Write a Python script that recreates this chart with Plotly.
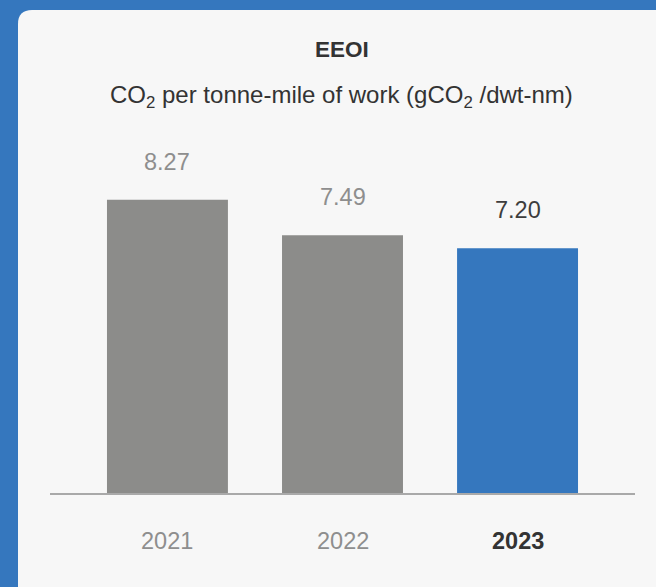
import plotly.graph_objects as go

# EEOI by year
years = ["2021", "2022", "2023"]
eeoi = [8.27, 7.49, 7.20]
value_labels = ["8.27", "7.49", "7.20"]

W, H = 656, 587
BLUE = "#3577be"
GREY_BAR = "#8c8c8a"
CARD = "#f7f7f7"
FONT = "Liberation Sans, Arial, Helvetica, sans-serif"

bar_colors = [GREY_BAR, GREY_BAR, BLUE]
label_colors = ["#8e8e8e", "#8e8e8e", "#3d3d3d"]

# pixel helpers -> paper coordinates (margins are zero)
px = lambda v: v / W
py = lambda v: 1 - v / H

x_pos = list(range(len(years)))

fig = go.Figure(
    go.Bar(
        x=x_pos,
        y=eeoi,
        width=0.691,
        marker=dict(color=bar_colors, line=dict(width=0)),
        hoverinfo="skip",
    )
)

# light card with rounded top-left corner on a blue frame
cx, cy, r = 18, 10, 14
card_path = (
    f"M {px(cx)},{py(H + 5)} L {px(cx)},{py(cy + r)} "
    f"Q {px(cx)},{py(cy)} {px(cx + r)},{py(cy)} "
    f"L {px(W + 5)},{py(cy)} L {px(W + 5)},{py(H + 5)} Z"
)
fig.add_shape(type="path", path=card_path, xref="paper", yref="paper",
              fillcolor=CARD, line=dict(width=0), layer="below")

base_y = py(493)

annotations = [
    dict(text="<b>EEOI</b>", x=px(342), y=py(50), xref="paper", yref="paper",
         showarrow=False, font=dict(family=FONT, size=22.5, color="#333333"),
         xanchor="center", yanchor="middle"),
    dict(text="CO<sub>2</sub> per tonne-mile of work (gCO<sub>2</sub> /dwt-nm)",
         x=px(341), y=py(96), xref="paper", yref="paper", showarrow=False,
         font=dict(family=FONT, size=24, color="#333333"),
         xanchor="center", yanchor="middle"),
]

for i, (v, lab, col) in enumerate(zip(eeoi, value_labels, label_colors)):
    annotations.append(dict(text=lab, x=i, y=v, xref="x", yref="y",
                            yshift=38, showarrow=False,
                            font=dict(family=FONT, size=23.5, color=col),
                            xanchor="center", yanchor="middle"))

for i, yr in enumerate(years):
    bold = i == len(years) - 1
    annotations.append(dict(text=f"<b>{yr}</b>" if bold else yr,
                            x=i, y=base_y, xref="x", yref="paper",
                            yshift=-48, showarrow=False,
                            font=dict(family=FONT, size=23.5,
                                      color="#333333" if bold else "#8e8e8e"),
                            xanchor="center", yanchor="middle"))

fig.update_layout(
    width=W, height=H,
    margin=dict(l=0, r=0, t=0, b=0),
    paper_bgcolor=BLUE,
    plot_bgcolor="rgba(0,0,0,0)",
    showlegend=False,
    annotations=annotations,
    xaxis=dict(domain=[px(50), px(635)], range=[-0.671, 2.671],
               showgrid=False, zeroline=False, showticklabels=False,
               ticks="", showline=True, linecolor="#a9a9a9", linewidth=1.5,
               fixedrange=True),
    yaxis=dict(domain=[base_y, py(130)], range=[1.8, 9.81],
               showgrid=False, zeroline=False, showticklabels=False,
               ticks="", showline=False, fixedrange=True),
)

fig.write_html("out.html")
